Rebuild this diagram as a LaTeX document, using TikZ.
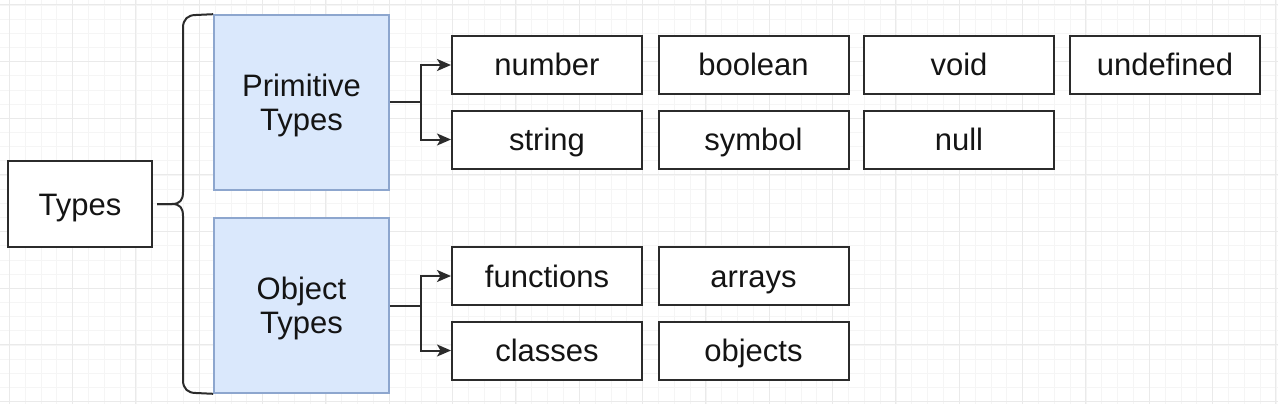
\documentclass[tikz,border=0pt]{standalone}
\usepackage{fontspec}
\setmainfont{Liberation Sans}
\usetikzlibrary{arrows.meta,calc}
\definecolor{gridminor}{HTML}{F5F5F5}
\definecolor{gridmajor}{HTML}{EAEAEA}
\definecolor{bluefill}{HTML}{DAE8FC}
\definecolor{blueline}{HTML}{8DA6CE}
\definecolor{ink}{HTML}{2B2B2B}
\tikzset{
  box/.style={draw=ink, line width=2pt, fill=white, minimum width=190pt, minimum height=58pt, inner sep=0pt,
    font=\fontsize{31}{34}\selectfont, text=black!92, text height=22pt, text depth=0pt},
  bigbox/.style={draw=blueline, line width=1.6pt, fill=bluefill, minimum width=175pt, minimum height=175pt, inner sep=0pt},
  bigtext/.style={align=center, inner sep=0pt, font=\fontsize{31}{34}\selectfont, text=black!92},
  conn/.style={draw=ink, line width=2pt},
  arr/.style={conn, -{Stealth[length=14pt,width=12pt,inset=3.5pt]}},
}
\begin{document}
\begin{tikzpicture}[x=1pt,y=-1pt]
\useasboundingbox (0,0) rectangle (1278,404);
\fill[white] (0,0) rectangle (1278,404);
% grid
\foreach \k in {0,...,80} {\draw[gridminor, line width=0.8pt] ({9.3+15.833*\k},0) -- ({9.3+15.833*\k},404);}
\foreach \k in {0,...,28} {\draw[gridminor, line width=0.8pt] (0,{4.97+14.167*\k}) -- (1278,{4.97+14.167*\k});}
\foreach \k in {0,...,20} {\draw[gridmajor, line width=1pt] ({9.3+63.333*\k},0) -- ({9.3+63.333*\k},404);}
\foreach \k in {0,...,7} {\draw[gridmajor, line width=1pt] (0,{4.97+56.667*\k}) -- (1278,{4.97+56.667*\k});}

% nodes
\node[box, minimum width=144pt, minimum height=86pt] (types) at (80,204) {Types};
\node[bigbox] (prim) at (301.5,102.5) {};
\node[bigtext] (primtext) at ($(prim.center)+(0,3)$) {Primitive\\Types};
\node[bigbox] (obj) at (301.5,305.5) {};
\node[bigtext] (objtext) at ($(obj.center)+(0,3)$) {Object\\Types};

\node[box] (number) at (547,65) {number};
\node[box] (boolean) at (753.5,65) {boolean};
\node[box] (void) at (959,65) {void};
\node[box] (undefined) at (1165,65) {undefined};
\node[box] (string) at (547,139.5) {string};
\node[box] (symbol) at (753.5,139.5) {symbol};
\node[box] (null) at (959,139.5) {null};

\node[box] (functions) at (547,276) {functions};
\node[box] (arrays) at (753.5,276) {arrays};
\node[box] (classes) at (547,350.5) {classes};
\node[box] (objects) at (753.5,350.5) {objects};

% brace
\coordinate (tip) at ($(types.east)+(4pt,0)$);
\draw[conn, line join=round]
  (prim.north west) -- (196,15) .. controls (188,15) and (183,19) .. (183,28)
  -- (183,192) .. controls (183,200) and (180,204) .. (172,204) -- (tip);
\draw[conn, line join=round]
  (tip) -- (172,204) .. controls (180,204) and (183,208) .. (183,216)
  -- (183,380) .. controls (183,389) and (188,393) .. (196,393) -- (obj.south west);

% connectors
\coordinate (pj) at ($(prim.east)+(31pt,0)$);
\draw[conn] (prim.east) -- (pj);
\draw[arr] (pj) |- (number.west);
\draw[arr] (pj) |- (string.west);

\coordinate (oj) at ($(obj.east)+(31pt,0)$);
\draw[conn] (obj.east) -- (oj);
\draw[arr] (oj) |- (functions.west);
\draw[arr] (oj) |- (classes.west);
\end{tikzpicture}
\end{document}
